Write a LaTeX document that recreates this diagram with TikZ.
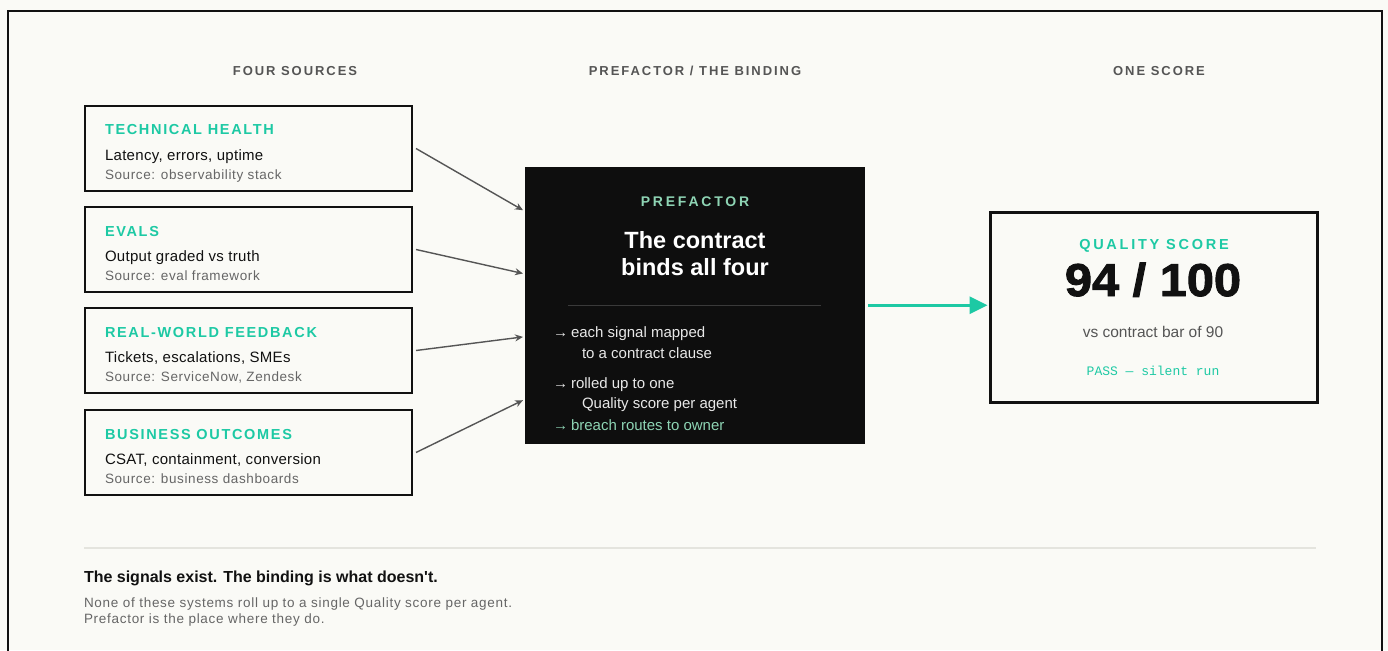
\documentclass[tikz,border=0pt]{standalone}
\usepackage{fontspec}
\setmainfont{Liberation Sans}
\setmonofont{Liberation Mono}
\newfontfamily\hdrfont[LetterSpace=15]{Liberation Sans}
\newfontfamily\titlefont[LetterSpace=11.5]{Liberation Sans}
\newfontfamily\pffont[LetterSpace=20]{Liberation Sans}
\newfontfamily\qsfont[LetterSpace=19]{Liberation Sans}
\newfontfamily\bodyfont[LetterSpace=2]{Liberation Sans}
\newfontfamily\smallfont[LetterSpace=4.5]{Liberation Sans}
\newfontfamily\footsmall[LetterSpace=5.3]{Liberation Sans}
\newfontfamily\footbold[Ligatures=TeXOff]{Liberation Sans}
\newfontfamily\bignum[FakeStretch=1.06,FakeBold=2]{Liberation Sans}
\usetikzlibrary{arrows.meta}
\definecolor{bg}{HTML}{FAFAF6}
\definecolor{teal}{HTML}{1DC9A4}
\definecolor{mint}{HTML}{8ED4B4}
\definecolor{ink}{HTML}{111111}
\definecolor{hdr}{HTML}{555555}
\definecolor{srcgray}{HTML}{666666}
\definecolor{pfblack}{HTML}{0E0E0E}
\definecolor{pfline}{HTML}{3A3A3A}
\definecolor{pftext}{HTML}{E8E8E8}
\definecolor{rule}{HTML}{E4E4DE}
\definecolor{arrowgray}{HTML}{555555}
\tikzset{
  lbl/.style={inner sep=0pt, outer sep=0pt, anchor=base west},
  clbl/.style={inner sep=0pt, outer sep=0pt, anchor=base},
  colhdr/.style={clbl, text=hdr, font=\hdrfont\bfseries\fontsize{13}{15}\selectfont},
  srcbox/.style={draw=ink, line width=2pt, fill=bg, minimum width=327pt, minimum height=85pt, inner sep=0pt, anchor=north west},
  srctitle/.style={lbl, text=teal, font=\titlefont\bfseries\fontsize{14.5}{16}\selectfont},
  srcbody/.style={lbl, text=ink, font=\bodyfont\fontsize{15}{17}\selectfont},
  srcnote/.style={lbl, text=srcgray, font=\smallfont\fontsize{13.5}{15}\selectfont},
  pfbox/.style={fill=pfblack, draw=pfblack, minimum width=339pt, minimum height=276pt, inner sep=0pt, anchor=north west},
  pftitle/.style={clbl, text=mint, font=\pffont\bfseries\fontsize{14}{16}\selectfont},
  pfhead/.style={clbl, text=white, font=\bfseries\fontsize{23.5}{26}\selectfont},
  pfitem/.style={lbl, text=pftext, font=\fontsize{15}{17}\selectfont},
  pfmint/.style={lbl, text=mint, font=\fontsize{15}{17}\selectfont},
  scorebox/.style={draw=ink, line width=3pt, fill=bg, minimum width=327pt, minimum height=190pt, inner sep=0pt, anchor=north west},
  qstitle/.style={clbl, text=teal, font=\qsfont\bfseries\fontsize{14.5}{16}\selectfont},
  bigscore/.style={clbl, text=ink, font=\bignum\bfseries\fontsize{46}{50}\selectfont},
  scorenote/.style={clbl, text=hdr, font=\fontsize{15.5}{17}\selectfont},
  passnote/.style={clbl, text=teal, font=\ttfamily\fontsize{13}{15}\selectfont},
  srcarrow/.style={draw=arrowgray, line width=1.4pt, -{Stealth[length=8pt, width=7pt]}},
  tealarrow/.style={draw=teal, line width=3pt, -{Triangle[length=18pt, width=17pt]}},
  foothead/.style={lbl, text=ink, font=\footbold\bfseries\fontsize{16}{18}\selectfont},
  footnote/.style={lbl, text=srcgray, font=\footsmall\fontsize{13.5}{15}\selectfont},
}
\begin{document}
\begin{tikzpicture}[x=1pt,y=-1pt]
\useasboundingbox (0,0) rectangle (1388,650);
\fill[bg] (0,0) rectangle (1388,650);
\draw[ink, line width=2pt] (8,11) rectangle (1382,680);

% column headers
\node[colhdr] (h1) at (295,76) {FOUR SOURCES};
\node[colhdr] (h2) at (695,76) {PREFACTOR / THE BINDING};
\node[colhdr] (h3) at (1159,76) {ONE SCORE};

% source boxes
\node[srcbox] (s1) at (84,105) {};
\node[srctitle] (s1t) at (105,135) {TECHNICAL HEALTH};
\node[srcbody] (s1b) at (105,160.5) {Latency, errors, uptime};
\node[srcnote] (s1n) at (105,179.5) {Source: observability stack};

\node[srcbox] (s2) at (84,206) {};
\node[srctitle] (s2t) at (105,236) {EVALS};
\node[srcbody] (s2b) at (105,261.5) {Output graded vs truth};
\node[srcnote] (s2n) at (105,280.5) {Source: eval framework};

\node[srcbox] (s3) at (84,307) {};
\node[srctitle] (s3t) at (105,337) {REAL-WORLD FEEDBACK};
\node[srcbody] (s3b) at (105,362.5) {Tickets, escalations, SMEs};
\node[srcnote] (s3n) at (105,381.5) {Source: ServiceNow, Zendesk};

\node[srcbox] (s4) at (84,409) {};
\node[srctitle] (s4t) at (105,439) {BUSINESS OUTCOMES};
\node[srcbody] (s4b) at (105,464.5) {CSAT, containment, conversion};
\node[srcnote] (s4n) at (105,483.5) {Source: business dashboards};

% prefactor box
\node[pfbox] (pf) at (525,167) {};
\node[pftitle] (pft) at (695,206.5) {PREFACTOR};
\node[pfhead] (pfh1) at (695,248) {The contract};
\node[pfhead] (pfh2) at (695,275) {binds all four};
\coordinate (dl) at (568,305.5);
\coordinate (dr) at (821,305.5);
\draw[pfline, line width=1pt] (dl) -- (dr);
\node[pfitem] (a1) at (553,337.5) {→};
\node[pfitem] (i1) at (571,337.5) {each signal mapped};
\node[pfitem] (i1b) at (582,358) {to a contract clause};
\node[pfitem] (a2) at (553,388) {→};
\node[pfitem] (i2) at (571,388) {rolled up to one};
\node[pfitem] (i2b) at (582,408.5) {Quality score per agent};
\node[pfmint] (a3) at (553,430) {→};
\node[pfmint] (i3) at (571,430) {breach routes to owner};

% source arrows
\draw[srcarrow] ([xshift=3pt]s1.east) -- ([xshift=-2pt,yshift=95pt]pf.west);
\draw[srcarrow] ([xshift=3pt]s2.east) -- ([xshift=-2pt,yshift=31.7pt]pf.west);
\draw[srcarrow] ([xshift=3pt]s3.east) -- ([xshift=-2pt,yshift=-31.7pt]pf.west);
\draw[srcarrow] ([xshift=3pt]s4.east) -- ([xshift=-2pt,yshift=-95pt]pf.west);

% score box
\node[scorebox] (sc) at (989,211) {};
\node[qstitle] (sct) at (1154,249) {QUALITY SCORE};
\node[bigscore] (scn) at (1153,296) {94 / 100};
\node[scorenote] (scb) at (1153,337.5) {vs contract bar of 90};
\node[passnote] (scp) at (1153,375) {PASS — silent run};

\draw[tealarrow] ([xshift=4pt]pf.east) -- ([xshift=-1.5pt]pf.east -| sc.west);

% footer
\coordinate (rl) at (84,548);
\coordinate (rr) at (1316,548);
\draw[rule, line width=2pt] (rl) -- (rr);
\node[foothead] (f1) at (84,582) {The signals exist. The binding is what doesn't.};
\node[footnote] (f2) at (84,607.5) {None of these systems roll up to a single Quality score per agent.};
\node[footnote] (f3) at (84,623.5) {Prefactor is the place where they do.};
\end{tikzpicture}
\end{document}
